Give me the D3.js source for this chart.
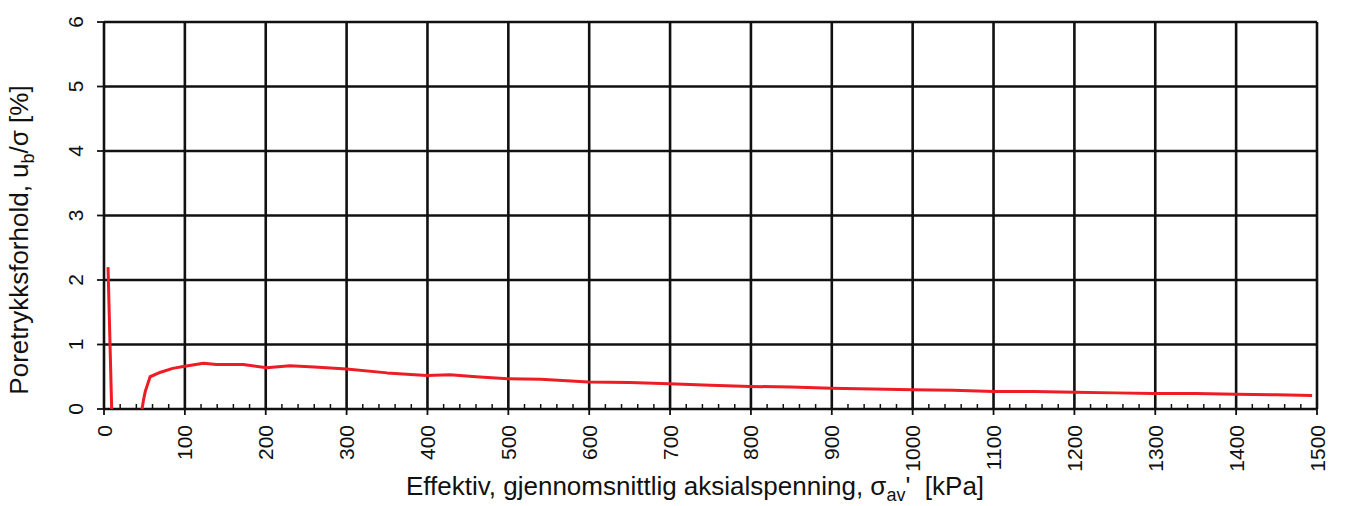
<!DOCTYPE html>
<html>
<head>
<meta charset="utf-8">
<script src="https://cdn.jsdelivr.net/npm/d3@7"></script>
<style>
  body { margin: 0; background: #fff; }
  text { font-family: "Liberation Sans", Arial, sans-serif; fill: #111; white-space: pre; }
</style>
</head>
<body>
<div id="chart"></div>
<script>
// effective mean axial stress [kPa] vs pore pressure ratio [%]
const stress1 = [5, 9.5];
const ratio1 = [2.2, 0];
const stress2 = [47, 49, 51, 57, 70, 85, 98, 123, 139, 155, 172, 201, 230, 260, 300, 350, 399, 428, 460, 499, 540, 599, 650, 699, 750, 799, 850, 899, 950, 1000, 1050, 1100, 1150, 1200, 1250, 1297, 1350, 1400, 1450, 1494];
const ratio2 = [0, 0.15, 0.27, 0.50, 0.57, 0.63, 0.66, 0.71, 0.69, 0.69, 0.69, 0.64, 0.67, 0.65, 0.62, 0.56, 0.52, 0.53, 0.50, 0.47, 0.46, 0.42, 0.41, 0.39, 0.37, 0.35, 0.34, 0.32, 0.31, 0.30, 0.29, 0.27, 0.27, 0.26, 0.25, 0.24, 0.24, 0.23, 0.22, 0.21];
const xTicks = d3.range(0, 1501, 100);
const xMinor = d3.range(0, 1501, 20);
const yTicks = [0, 1, 2, 3, 4, 5, 6];

const width = 1346, height = 506;
const margin = { left: 104, right: 29, top: 22, bottom: 97 };

const svg = d3.select("#chart").append("svg")
    .attr("width", width)
    .attr("height", height);

const x = d3.scaleLinear().domain([0, 1500]).range([margin.left, width - margin.right]);
const y = d3.scaleLinear().domain([0, 6]).range([height - margin.bottom, margin.top]);

// grid
const grid = svg.append("g").attr("stroke", "#111").attr("stroke-width", 2.6);
grid.selectAll(".vx").data(xTicks).enter().append("line")
    .attr("x1", d => x(d)).attr("x2", d => x(d))
    .attr("y1", y(0)).attr("y2", y(6));
grid.selectAll(".hy").data(yTicks).enter().append("line")
    .attr("x1", x(0)).attr("x2", x(1500))
    .attr("y1", d => y(d)).attr("y2", d => y(d));

// minor ticks on x axis (upward)
svg.append("g").selectAll("line").data(xMinor.filter(d => d % 100 !== 0)).enter().append("line")
    .attr("x1", d => x(d)).attr("x2", d => x(d))
    .attr("y1", y(0)).attr("y2", y(0) - 5)
    .attr("stroke", "#111").attr("stroke-width", 1.5);

// major ticks outward
svg.append("g").selectAll("line").data(xTicks).enter().append("line")
    .attr("x1", d => x(d)).attr("x2", d => x(d))
    .attr("y1", y(0)).attr("y2", y(0) + 6)
    .attr("stroke", "#111").attr("stroke-width", 1.8);
svg.append("g").selectAll("line").data(yTicks).enter().append("line")
    .attr("x1", x(0) - 7).attr("x2", x(0))
    .attr("y1", d => y(d)).attr("y2", d => y(d))
    .attr("stroke", "#111").attr("stroke-width", 1.8);

// tick labels, rotated
svg.append("g").selectAll("text").data(xTicks).enter().append("text")
    .attr("transform", d => `translate(${x(d) + 7.5},${y(0) + 16}) rotate(-90)`)
    .attr("text-anchor", "end")
    .attr("font-size", 21)
    .text(d => d);
svg.append("g").selectAll("text").data(yTicks).enter().append("text")
    .attr("transform", d => `translate(83,${y(d)}) rotate(-90)`)
    .attr("text-anchor", "middle")
    .attr("font-size", 21)
    .text(d => d);

// axis titles
const xt = svg.append("text")
    .attr("x", 695).attr("y", 495)
    .attr("text-anchor", "middle")
    .attr("font-size", 26);
xt.append("tspan").text("Effektiv, gjennomsnittlig aksialspenning, σ");
xt.append("tspan").attr("font-size", 18).attr("dy", 6).text("av");
xt.append("tspan").attr("dy", -6).text("'  [kPa]");

const yt = svg.append("text")
    .attr("transform", "translate(28,240) rotate(-90)")
    .attr("text-anchor", "middle")
    .attr("font-size", 26);
yt.append("tspan").text("Poretrykksforhold, u");
yt.append("tspan").attr("font-size", 18).attr("dy", 6).text("b");
yt.append("tspan").attr("dy", -6).text("/σ [%]");

// data curve
const line = d3.line().x(d => x(d[0])).y(d => y(d[1]));
[[stress1, ratio1], [stress2, ratio2]].forEach(([s, r]) => {
  svg.append("path")
      .datum(s.map((v, i) => [v, r[i]]))
      .attr("d", line)
      .attr("fill", "none")
      .attr("stroke", "#ee1c24")
      .attr("stroke-width", 3)
      .attr("stroke-linejoin", "round");
});
</script>
</body>
</html>
